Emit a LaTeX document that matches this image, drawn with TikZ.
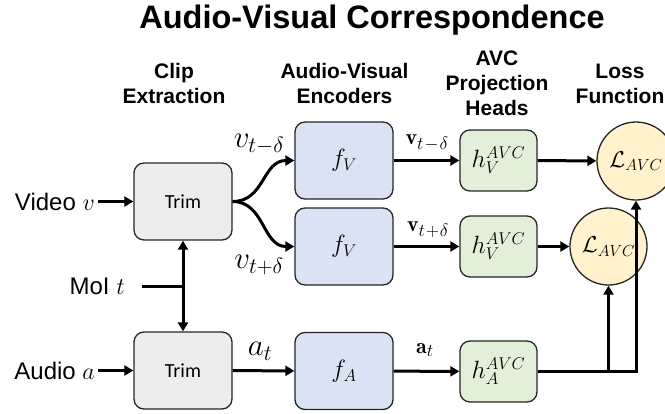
\RequirePackage{fix-cm}
\documentclass[tikz,border=0pt]{standalone}
\usepackage{fontspec}
\newfontfamily\arialfont{Liberation Sans}
\newfontfamily\trimfont{Carlito}
\usetikzlibrary{arrows.meta}
\definecolor{trimgray}{HTML}{EDEDED}
\definecolor{encblue}{HTML}{DAE3F3}
\definecolor{headgreen}{HTML}{E2F0D9}
\definecolor{lossyellow}{HTML}{FFF2CC}
\definecolor{edge}{HTML}{262626}
% math sizes used by the labels
\DeclareMathSizes{31}{31}{22}{16}
\DeclareMathSizes{25}{25}{17}{13}
\DeclareMathSizes{23}{23}{16}{12}
\DeclareMathSizes{22}{22}{18}{13}

\begin{document}
\begin{tikzpicture}[x=1pt,y=-1pt,
  box/.style={draw=edge, line width=1.3pt, rounded corners=10pt, inner sep=0pt},
  trimbox/.style={box, fill=trimgray, minimum width=98pt, minimum height=77pt,
    font=\trimfont\fontsize{20}{24}\selectfont},
  encbox/.style={box, fill=encblue, minimum width=98pt, minimum height=77pt,
    font=\fontsize{25}{30}\selectfont},
  headbox/.style={box, fill=headgreen, minimum width=77pt, minimum height=61pt,
    font=\fontsize{25}{30}\selectfont},
  lossnode/.style={circle, draw=edge, line width=1.3pt, fill=lossyellow,
    inner sep=0pt, font=\fontsize{23}{28}\selectfont},
  header/.style={font=\arialfont\bfseries\fontsize{21}{25}\selectfont,
    align=center, anchor=base, inner sep=0pt},
  inlabel/.style={font=\arialfont\fontsize{24}{28}\selectfont, inner sep=3pt},
  mathlabel/.style={font=\fontsize{31}{36}\selectfont, inner sep=0pt},
  featlabel/.style={font=\fontsize{22}{26}\selectfont, inner sep=0pt},
  flow/.style={line width=3pt, -{Triangle[length=9pt,width=10pt]}},
  plain/.style={line width=3pt},
]
\useasboundingbox (0,0) rectangle (665,413);

% title and column headers (anchored on the baseline of the last line)
\node[font=\arialfont\bfseries\fontsize{32.5}{39}\selectfont, anchor=base, inner sep=0pt]
  (title) at (372,28) {Audio-Visual Correspondence};
\node[header] (hdClip) at (174,103) {Clip\\Extraction};
\node[header] (hdEnc) at (344.5,103) {Audio-Visual\\Encoders};
\node[header] (hdHead) at (497,115) {AVC\\Projection\\Heads};
\node[header] (hdLoss) at (620,103) {Loss\\Function};

% clip extraction
\node[trimbox] (trimTop) at (183,201.5) {Trim};
\node[trimbox] (trimBot) at (183,370.5) {Trim};

% encoders
\node[encbox] (fV1) at (344,160.5) {$f_V$};
\node[encbox] (fV2) at (344,246.5) {$f_V$};
\node[encbox] (fA) at (344,371) {$f_A$};

% projection heads
\node[headbox] (hV1) at (498.5,160.5) {$h_V^{AVC}$};
\node[headbox] (hV2) at (498.5,246.5) {$h_V^{AVC}$};
\node[headbox] (hA) at (498.5,371.5) {$h_A^{AVC}$};

% losses
\node[lossnode, minimum size=78pt] (L1) at (636,161) {$\mathcal{L}_{AVC}$};
\node[lossnode, minimum size=77pt] (L2) at (608.5,246.5) {$\mathcal{L}_{AVC}$};

% inputs
\node[inlabel, anchor=east] (video) at (98,201.5) {Video $v$};
\node[inlabel, anchor=east] (moi) at (128,286) {MoI $t$};
\node[inlabel, anchor=east] (audio) at (98,370.5) {Audio $a$};
\coordinate (moiJoin) at (trimTop.south |- moi.east);

\draw[flow] (video) -- (trimTop);
\draw[flow] (audio) -- (trimBot);
\draw[plain, shorten <=14pt] (moi.east) -- (moiJoin);
\draw[flow] (moiJoin) -- (trimTop.south);
\draw[flow] (moiJoin) -- (trimBot.north);

% clip fork into the video encoders
\draw[flow] (trimTop.east) .. controls +(32,0) and +(-32,0) .. (fV1.west);
\draw[flow] (trimTop.east) .. controls +(32,0) and +(-32,0) .. (fV2.west);
\node[mathlabel] (lblVm) at (259,144) {$v_{t-\delta}$};
\node[mathlabel] (lblVp) at (259,265) {$v_{t+\delta}$};

\draw[flow] (trimBot) -- (fA);
\node[mathlabel] (lblA) at (260,351) {$a_t$};

% encoders to heads
\draw[flow] (fV1) -- (hV1);
\draw[flow] (fV2) -- (hV2);
\draw[flow] (fA) -- (hA);
\node[featlabel] (lblFm) at (427,143) {$\mathbf{v}_{t\mkern1mu-\mkern1mu\delta}$};
\node[featlabel] (lblFp) at (428,230) {$\mathbf{v}_{t\mkern1mu+\mkern1mu\delta}$};
\node[featlabel] (lblFa) at (425,350) {$\mathbf{a}_{t}$};

% heads to losses
\draw[flow] (hV1) -- (L1);
\draw[flow] (hV2) -- (L2);
\draw[flow] (hA.east) -| (L2.south);
\draw[flow] (hA.east) -| (L1.south);
\end{tikzpicture}
\end{document}
